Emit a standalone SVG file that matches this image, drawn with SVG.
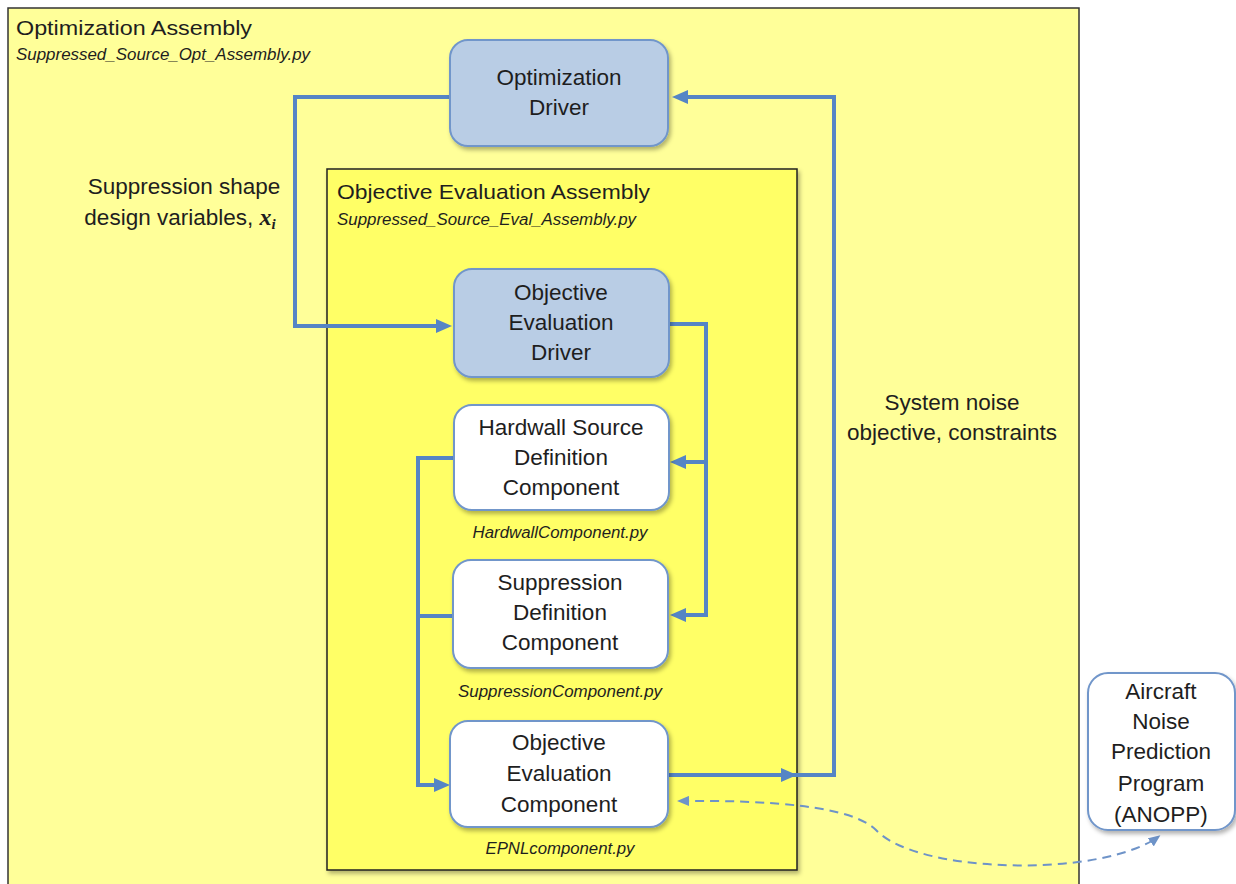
<svg xmlns="http://www.w3.org/2000/svg" width="1236" height="884" viewBox="0 0 1236 884">
<style>
.lbl{font-family:"Liberation Sans",Arial,sans-serif;font-size:22.5px;fill:#1e1e1e;text-anchor:middle}
.ttl{font-family:"Liberation Sans",Arial,sans-serif;font-size:21px;fill:#1e1e1e}
.fn{font-family:"Liberation Sans",Arial,sans-serif;font-size:16px;font-style:italic;fill:#1e1e1e}
.drv{fill:#B9CDE5;stroke:#7196CA;stroke-width:2}
.cmp{fill:#FFFFFF;stroke:#7196CA;stroke-width:2}
.con{fill:none;stroke:#5585C5;stroke-width:4;stroke-linejoin:miter}
.dash{fill:none;stroke:#6E93C8;stroke-width:2;stroke-dasharray:9,6}
</style>
<defs>
<filter id="sh" x="-10%" y="-10%" width="130%" height="130%">
<feDropShadow dx="2" dy="3" stdDeviation="2" flood-color="#000" flood-opacity="0.3"/>
</filter>
<marker id="ah" viewBox="0 0 16 14" markerWidth="16" markerHeight="14" markerUnits="userSpaceOnUse" refX="9" refY="7" orient="auto">
<path d="M0,0 L16,7 L0,14 z" fill="#5585C5"/>
</marker>
<marker id="dh" viewBox="0 0 12 10" markerWidth="12" markerHeight="10" markerUnits="userSpaceOnUse" refX="9" refY="5" orient="auto-start-reverse">
<path d="M0,0 L12,5 L0,10 z" fill="#6E93C8"/>
</marker>
</defs>
<rect x="0" y="0" width="1236" height="884" fill="#FFFFFF"/>

<g id="optimization-assembly">
<rect x="8" y="8" width="1071" height="900" fill="#FFFF99" stroke="#333" stroke-width="1.5"/>
<text class="ttl" x="16" y="35" textLength="236" lengthAdjust="spacingAndGlyphs">Optimization Assembly</text>
<text class="fn" x="16" y="60" textLength="294" lengthAdjust="spacingAndGlyphs">Suppressed_Source_Opt_Assembly.py</text>
</g>

<g id="objective-evaluation-assembly">
<rect x="327" y="169" width="470" height="701" fill="#FFFF66" stroke="#222" stroke-width="1.5" filter="url(#sh)"/>
<text class="ttl" x="337" y="199" textLength="313" lengthAdjust="spacingAndGlyphs">Objective Evaluation Assembly</text>
<text class="fn" x="337" y="225" textLength="299" lengthAdjust="spacingAndGlyphs">Suppressed_Source_Eval_Assembly.py</text>
</g>

<g id="connectors">
<path class="con" d="M450,97 H295 V326 H445" marker-end="url(#ah)"/>
<path class="con" d="M668,775 H834 V97 H679" marker-end="url(#ah)"/>
<path class="con" d="M778,775 H790" marker-end="url(#ah)"/>
<path class="con" d="M669,324 H706 V615 H677" marker-end="url(#ah)"/>
<path class="con" d="M706,462 H677" marker-end="url(#ah)"/>
<path class="con" d="M454,458 H418 V785 H443" marker-end="url(#ah)"/>
<path class="con" d="M453,616 H418"/>
<path class="dash" d="M680,801 C770,800 852,806 876,830 C904,860 1000,872 1078,862 C1118,857 1146,846 1158,837" marker-start="url(#dh)" marker-end="url(#dh)"/>
</g>

<g id="label-design-vars">
<text class="lbl" x="184" y="194">Suppression shape</text>
<text class="lbl" x="180" y="225">design variables, <tspan font-family="Liberation Serif" font-style="italic" font-weight="bold" font-size="24">x</tspan><tspan font-family="Liberation Serif" font-style="italic" font-weight="bold" font-size="15" dy="4">i</tspan></text>
</g>

<g id="label-system-noise">
<text class="lbl" x="952" y="410">System noise</text>
<text class="lbl" x="952" y="440">objective, constraints</text>
</g>

<g id="optimization-driver">
<rect class="drv" x="450" y="40" width="218" height="106" rx="18" filter="url(#sh)"/>
<text class="lbl" x="559" y="85">Optimization</text>
<text class="lbl" x="559" y="115">Driver</text>
</g>

<g id="objective-evaluation-driver">
<rect class="drv" x="454" y="269" width="215" height="108" rx="18" filter="url(#sh)"/>
<text class="lbl" x="561" y="300">Objective</text>
<text class="lbl" x="561" y="330">Evaluation</text>
<text class="lbl" x="561" y="360">Driver</text>
</g>

<g id="hardwall-component">
<rect class="cmp" x="454" y="405" width="215" height="105" rx="18" filter="url(#sh)"/>
<text class="lbl" x="561" y="435">Hardwall Source</text>
<text class="lbl" x="561" y="465">Definition</text>
<text class="lbl" x="561" y="495">Component</text>
<text class="fn" x="560" y="538" text-anchor="middle" textLength="175" lengthAdjust="spacingAndGlyphs">HardwallComponent.py</text>
</g>

<g id="suppression-component">
<rect class="cmp" x="453" y="560" width="215" height="108" rx="18" filter="url(#sh)"/>
<text class="lbl" x="560" y="590">Suppression</text>
<text class="lbl" x="560" y="620">Definition</text>
<text class="lbl" x="560" y="650">Component</text>
<text class="fn" x="560" y="697" text-anchor="middle" textLength="204" lengthAdjust="spacingAndGlyphs">SuppressionComponent.py</text>
</g>

<g id="objective-evaluation-component">
<rect class="cmp" x="450" y="721" width="218" height="106" rx="18" filter="url(#sh)"/>
<text class="lbl" x="559" y="750">Objective</text>
<text class="lbl" x="559" y="781">Evaluation</text>
<text class="lbl" x="559" y="812">Component</text>
<text class="fn" x="560" y="854" text-anchor="middle" textLength="149" lengthAdjust="spacingAndGlyphs">EPNLcomponent.py</text>
</g>

<g id="anopp">
<rect class="cmp" x="1088" y="673" width="147" height="157" rx="20" filter="url(#sh)"/>
<text class="lbl" x="1161" y="699">Aircraft</text>
<text class="lbl" x="1161" y="729">Noise</text>
<text class="lbl" x="1161" y="759">Prediction</text>
<text class="lbl" x="1161" y="791">Program</text>
<text class="lbl" x="1161" y="822">(ANOPP)</text>
</g>
</svg>
